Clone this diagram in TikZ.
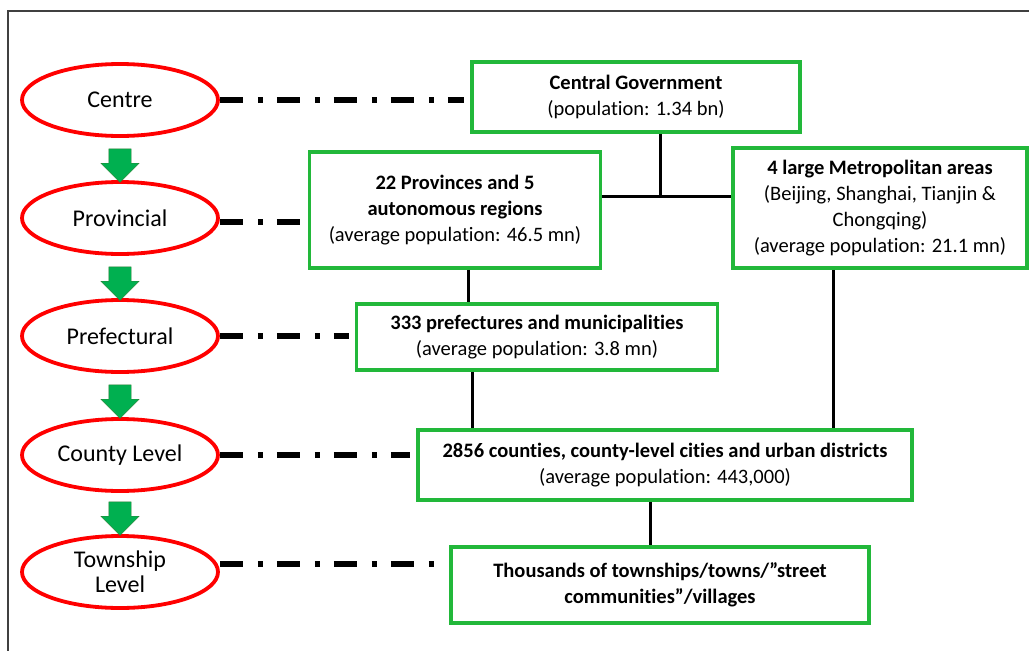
\documentclass[tikz,border=0pt]{standalone}
\usepackage{fontspec}
\setmainfont{Carlito}[Ligatures={NoCommon}]
\usetikzlibrary{shapes.geometric,shapes.arrows,positioning,calc}
\definecolor{lvred}{HTML}{FF0000}
\definecolor{boxgreen}{HTML}{22B83A}
\definecolor{arrgreen}{HTML}{00B050}
\definecolor{arrdark}{HTML}{2E7D32}
\tikzset{
  level/.style={ellipse,draw=lvred,line width=3.8pt,minimum width=196pt,minimum height=72pt,
    align=center,font=\fontsize{24}{25}\selectfont,inner sep=0pt},
  unit/.style={rectangle,draw=boxgreen,line width=3.5pt,align=center,
    font=\fontsize{20.5}{26}\selectfont,inner sep=0pt},
  downarrow/.style={single arrow,shape border rotate=270,fill=arrgreen,draw=arrdark,thin,
    inner sep=11pt,single arrow head extend=8pt,minimum height=29pt},
  tie/.style={line width=5.5pt,dash pattern=on 23pt off 15pt on 5pt off 14pt,shorten >=6pt},
  link/.style={line width=3pt}
}
\begin{document}
\begin{tikzpicture}[x=1pt,y=-1pt]
\useasboundingbox (0,0) rectangle (1029,651);
%% frame
\draw[line width=2pt,black!75] (8,651) -- (8,11) -- (1029,11);
%% administrative levels
\node[level] (lvCentre) at (120,100) {Centre};
\node[level] (lvProv)   at (120,218) {Provincial};
\node[level] (lvPref)   at (120,336) {Prefectural};
\node[level] (lvCounty) at (120,455) {County Level};
\node[level] (lvTown)   at (120,572) {Township\\Level};
%% arrows between levels
\foreach \y [count=\i] in {160,278,396,513}
  \node[downarrow] (arr\i) at (120,\y) {};
%% government units
\node[unit,minimum width=328pt,minimum height=70pt] (gov) at (636,97)
  {\textbf{Central Government}\\(population: 1.34 bn)};
\node[unit,minimum width=291pt,minimum height=116pt] (prov) at (455,210)
  {\textbf{22 Provinces and 5}\\\textbf{autonomous regions}\\(average population: 46.5 mn)};
\node[unit,minimum width=294pt,minimum height=120pt] (metro) at (880,208)
  {\textbf{4 large Metropolitan areas}\\(Beijing, Shanghai, Tianjin \&\\Chongqing)\\(average population: 21.1 mn)};
\node[unit,minimum width=361pt,minimum height=66pt] (pref) at (537,337)
  {\textbf{333 prefectures and municipalities}\\(average population: 3.8 mn)};
\node[unit,minimum width=494pt,minimum height=70pt] (county) at (665,465)
  {\textbf{2856 counties, county-level cities and urban districts}\\(average population: 443,000)};
\node[unit,minimum width=418pt,minimum height=76pt] (town) at (660,585)
  {\textbf{Thousands of townships/towns/”street}\\\textbf{communities”/villages}};
%% dash-dot ties from levels to units
\draw[tie] (lvCentre.east) -- (lvCentre.east -| gov.west);
\draw[tie] ([yshift=-4pt]lvProv.east) -- ([yshift=-4pt]lvProv.east -| prov.west);
\draw[tie] (lvPref.east) -- (lvPref.east -| pref.west);
\draw[tie] (lvCounty.east) -- (lvCounty.east -| county.west);
\draw[tie] ([yshift=8pt]lvTown.east) -- ([yshift=8pt]lvTown.east -| town.west);
%% hierarchy links
\coordinate (junction) at (660,196);
\draw[link] (gov.south -| junction) -- (junction);
\draw[link] (junction -| prov.east) -- (junction -| metro.west);
\draw[link] ([xshift=13pt]prov.south) -- ([xshift=13pt]prov.south |- pref.north);
\draw[link] ([xshift=-65pt]pref.south) -- ([xshift=-65pt]pref.south |- county.north);
\draw[link] ([xshift=-47pt]metro.south) -- ([xshift=-47pt]metro.south |- county.north);
\draw[link] ([xshift=-15pt]county.south) -- ([xshift=-15pt]county.south |- town.north);
\end{tikzpicture}
\end{document}
